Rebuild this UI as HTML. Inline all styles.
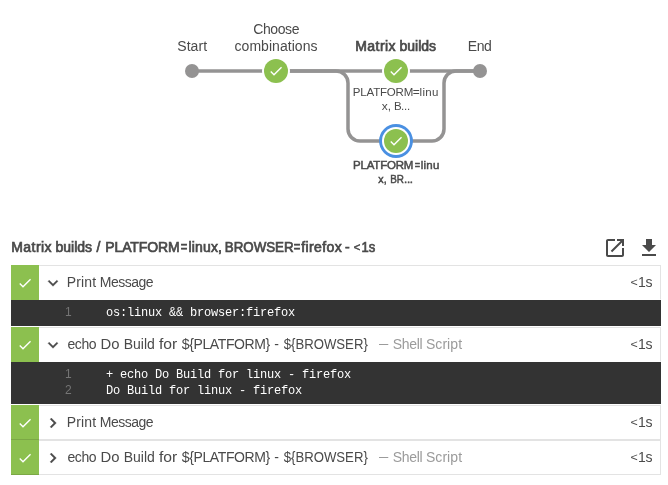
<!DOCTYPE html>
<html lang="en">
<head>
<meta charset="utf-8">
<title>Matrix builds</title>
<style>
*{box-sizing:border-box;}
html,body{margin:0;padding:0;background:#fff;}
body{width:668px;height:485px;overflow:hidden;position:relative;font-family:"Liberation Sans",sans-serif;font-size:14px;color:#4a4a4a;}
.page{position:absolute;left:0;top:0;width:668px;height:485px;will-change:transform;}
.tx{position:absolute;left:0;white-space:nowrap;line-height:20px;height:20px;}
.tx span{position:absolute;top:0;}
.dash{transform-origin:0 50%;}
.graph{position:absolute;left:0;top:0;width:668px;height:200px;}
.graph svg{position:absolute;left:0;top:0;}
.big{font-size:14px;}
.small{font-size:11.5px;}
.sel{-webkit-text-stroke:0.7px #4a4a4a;color:#4a4a4a;}
.small.sel{-webkit-text-stroke-width:0.5px;}
.head{-webkit-text-stroke:0.7px #4a4a4a;font-size:14px;color:#4a4a4a;}
.ico{position:absolute;top:236px;width:24px;height:24px;}
.row{position:absolute;left:11px;width:650px;height:35px;border:1px solid #e3e3e3;background:#fff;}
.row .st{position:absolute;left:-1px;top:-1px;width:28px;height:35px;background:#8cc04f;}
.row .st svg{display:block;}
.row.open{border-bottom-color:transparent;}
.row.closed .st{box-shadow:inset 0 -1px 0 rgba(0,0,0,0.12);}
.row .chev{position:absolute;left:31px;top:7px;}
.row .sub{color:#9b9b9b;}
.log{position:absolute;left:11px;width:650px;background:#333;color:#fff;font-family:"Liberation Mono",monospace;font-size:12px;line-height:16px;white-space:pre;letter-spacing:-0.2px;}
.log .n{position:absolute;color:#757575;font-family:"Liberation Sans",sans-serif;letter-spacing:0;line-height:20px;}
.log .t{position:absolute;left:95px;}
</style>
</head>
<body>
<div class="page">
<div class="graph">
<svg width="668" height="200" viewBox="0 0 668 200">
 <g fill="none" stroke="#949393" stroke-width="3.5">
  <path d="M192 71 H480"/>
  <path d="M276 71 H336 A12 12 0 0 1 348 83 V129 A12 12 0 0 0 360 141 H396"/>
  <path d="M396 141 H432 A12 12 0 0 0 444 129 V83 A12 12 0 0 1 456 71 H480"/>
 </g>
 <circle cx="192" cy="71" r="7" fill="#949393"/>
 <circle cx="480" cy="71" r="7" fill="#949393"/>
 <g transform="translate(276 71)"><circle r="14" fill="#fff"/><circle r="12" fill="#8cc04f"/><polygon points="-2.00 2.80 -4.80 0.00 -5.73 0.933 -2.00 4.667 6.00 -3.33 5.07 -4.27" fill="#fff"/></g>
 <g transform="translate(396 71)"><circle r="14" fill="#fff"/><circle r="12" fill="#8cc04f"/><polygon points="-2.00 2.80 -4.80 0.00 -5.73 0.933 -2.00 4.667 6.00 -3.33 5.07 -4.27" fill="#fff"/></g>
 <g transform="translate(396 141)"><circle r="15" fill="none" stroke="#4a90e2" stroke-width="3.85"/><circle r="14" fill="#fff"/><circle r="12" fill="#8cc04f"/><polygon points="-2.00 2.80 -4.80 0.00 -5.73 0.933 -2.00 4.667 6.00 -3.33 5.07 -4.27" fill="#fff"/></g>
</svg>
<div class="tx big" style="top:36px;"><span style="left:177.25px;letter-spacing:0.06px;">Start</span></div>
<div class="tx big" style="top:19px;"><span style="left:253.25px;letter-spacing:-0.4px;">Choose</span></div>
<div class="tx big" style="top:36px;"><span style="left:234.5px;letter-spacing:0.05px;">combinations</span></div>
<div class="tx big sel" style="top:36px;"><span style="left:355.25px;letter-spacing:0.45px;">Matrix</span> <span style="left:399.5px;">builds</span></div>
<div class="tx big" style="top:36px;"><span style="left:467.75px;letter-spacing:-0.38px;">End</span></div>
<div class="tx small" style="top:82px;"><span style="left:352.8px;letter-spacing:-0.18px;">PLATFORM</span><span style="left:412.72px;transform:scaleX(1.04);transform-origin:3.38px 50%;">=</span><span style="left:419.55px;letter-spacing:0.33px;">linu</span></div>
<div class="tx small" style="top:96px;"><span style="left:381.92px;transform:scaleX(1.04);transform-origin:4.12px 50%;">x,</span> <span style="left:394.1px;">B</span><span style="left:401.05px;letter-spacing:-0.28px;">...</span></div>
<div class="tx small sel" style="top:155px;"><span style="left:353.12px;letter-spacing:-0.21px;">PLATFORM</span><span style="left:413.92px;transform:scaleX(0.8);transform-origin:3.38px 50%;">=</span><span style="left:420.72px;letter-spacing:0.26px;">linu</span></div>
<div class="tx small sel" style="top:169px;"><span style="left:378.25px;transform:scaleX(0.93);transform-origin:4px 50%;">x,</span> <span style="left:389px;transform:scaleX(0.86);transform-origin:8.25px 50%;">BR</span><span style="left:403.95px;letter-spacing:-0.25px;">...</span></div>
</div>
<div class="tx head" style="top:237px;"><span style="left:11.25px;letter-spacing:0.45px;">Matrix</span> <span style="left:55.5px;">builds</span> <span style="left:96.62px;">/</span> <span style="left:105.25px;letter-spacing:-0.11px;">PLATFORM</span><span style="left:180px;transform:scaleX(0.8);transform-origin:4px 50%;">=</span><span style="left:188.5px;letter-spacing:0.15px;">linux,</span> <span style="left:222.5px;transform:scaleX(0.95);transform-origin:36.5px 50%;">BROWSER</span><span style="left:293px;transform:scaleX(0.8);transform-origin:4px 50%;">=</span><span style="left:301.25px;letter-spacing:0.38px;">firefox</span> <span style="left:345.12px;">-</span> <span style="left:353px;transform:scale(0.8,0.78);transform-origin:4px 50%;">&lt;</span><span style="left:360.75px;transform:scaleX(0.93);transform-origin:7.75px 50%;">1s</span></div>
<svg class="ico" style="left:603px;" viewBox="0 0 24 24"><path fill="#4a4a4a" d="M19 19H5V5h7V3H5c-1.11 0-2 .9-2 2v14c0 1.1.89 2 2 2h14c1.1 0 2-.9 2-2v-7h-2v7zM14 3v2h3.59l-9.83 9.83 1.41 1.41L19 6.41V10h2V3h-7z"/></svg>
<svg class="ico" style="left:637px;" viewBox="0 0 24 24"><path fill="#4a4a4a" d="M19 9h-4V3H9v6H5l7 7 7-7zM5 18v2h14v-2H5z"/></svg>
<div class="row open" style="top:265px;"><div class="st"><svg width="28" height="35" viewBox="0 0 28 35"><polygon transform="translate(14 18)" points="-2.00 2.80 -4.80 0.00 -5.73 0.933 -2.00 4.667 6.00 -3.33 5.07 -4.27" fill="#fff"/></svg></div><svg class="chev" width="20" height="20" viewBox="0 0 24 24"><path d="M16.59 8.59L12 13.17 7.41 8.59 6 10l6 6 6-6z" fill="#4a4a4a" stroke="#4a4a4a" stroke-width="0.4"/></svg><div class="tx ttl" style="top:6px;"><span style="left:54.75px;letter-spacing:0.12px;">Print</span> <span style="left:87.75px;letter-spacing:-0.5px;">Message</span></div><div class="tx dur" style="top:6px;"><span style="left:617.88px;transform:scale(0.89,0.78);transform-origin:4.12px 50%;">&lt;</span><span style="left:626px;letter-spacing:-0.25px;">1s</span></div></div>
<div class="log" style="top:300px;height:26px;"><div class="n" style="left:54px;top:2px;">1</div><div class="t" style="top:5px;">os:linux &amp;&amp; browser:firefox</div></div>
<div class="row open" style="top:327px;"><div class="st"><svg width="28" height="35" viewBox="0 0 28 35"><polygon transform="translate(14 18)" points="-2.00 2.80 -4.80 0.00 -5.73 0.933 -2.00 4.667 6.00 -3.33 5.07 -4.27" fill="#fff"/></svg></div><svg class="chev" width="20" height="20" viewBox="0 0 24 24"><path d="M16.59 8.59L12 13.17 7.41 8.59 6 10l6 6 6-6z" fill="#4a4a4a" stroke="#4a4a4a" stroke-width="0.4"/></svg><div class="tx ttl" style="top:6px;"><span style="left:55.5px;letter-spacing:-0.42px;">echo</span> <span style="left:89.25px;transform:scaleX(1.06);transform-origin:9.25px 50%;">Do</span> <span style="left:111.75px;">Build</span> <span style="left:147.75px;transform:scaleX(1.12);transform-origin:8.25px 50%;">for</span> <span style="left:169.75px;letter-spacing:-0.38px;">${PLATFORM}</span> <span style="left:262.25px;">-</span> <span style="left:269.25px;transform:scaleX(0.94);transform-origin:44.75px 50%;">${BROWSER}</span></div><div class="tx sub dash" style="left:366.8px;top:5px;transform:scaleX(0.66);">—</div><div class="tx sub" style="top:6px;"><span style="left:380.85px;letter-spacing:-0.35px;">Shell</span> <span style="left:413.92px;letter-spacing:0.07px;">Script</span></div><div class="tx dur" style="top:6px;"><span style="left:617.88px;transform:scale(0.89,0.78);transform-origin:4.12px 50%;">&lt;</span><span style="left:626px;letter-spacing:-0.25px;">1s</span></div></div>
<div class="log" style="top:362px;height:42px;"><div class="n" style="left:54px;top:2px;">1</div><div class="t" style="top:5px;">+ echo Do Build for linux - firefox</div><div class="n" style="left:54px;top:18px;">2</div><div class="t" style="top:21px;">Do Build for linux - firefox</div></div>
<div class="row closed" style="top:405px;"><div class="st"><svg width="28" height="35" viewBox="0 0 28 35"><polygon transform="translate(14 18)" points="-2.00 2.80 -4.80 0.00 -5.73 0.933 -2.00 4.667 6.00 -3.33 5.07 -4.27" fill="#fff"/></svg></div><svg class="chev" width="20" height="20" viewBox="0 0 24 24"><path transform="rotate(-90 12 12)" d="M16.59 8.59L12 13.17 7.41 8.59 6 10l6 6 6-6z" fill="#4a4a4a" stroke="#4a4a4a" stroke-width="0.4"/></svg><div class="tx ttl" style="top:6px;"><span style="left:54.75px;letter-spacing:0.12px;">Print</span> <span style="left:87.75px;letter-spacing:-0.5px;">Message</span></div><div class="tx dur" style="top:6px;"><span style="left:617.88px;transform:scale(0.89,0.78);transform-origin:4.12px 50%;">&lt;</span><span style="left:626px;letter-spacing:-0.25px;">1s</span></div></div>
<div class="row closed" style="top:440px;"><div class="st"><svg width="28" height="35" viewBox="0 0 28 35"><polygon transform="translate(14 18)" points="-2.00 2.80 -4.80 0.00 -5.73 0.933 -2.00 4.667 6.00 -3.33 5.07 -4.27" fill="#fff"/></svg></div><svg class="chev" width="20" height="20" viewBox="0 0 24 24"><path transform="rotate(-90 12 12)" d="M16.59 8.59L12 13.17 7.41 8.59 6 10l6 6 6-6z" fill="#4a4a4a" stroke="#4a4a4a" stroke-width="0.4"/></svg><div class="tx ttl" style="top:6px;"><span style="left:55.5px;letter-spacing:-0.42px;">echo</span> <span style="left:89.25px;transform:scaleX(1.06);transform-origin:9.25px 50%;">Do</span> <span style="left:111.75px;">Build</span> <span style="left:147.75px;transform:scaleX(1.12);transform-origin:8.25px 50%;">for</span> <span style="left:169.75px;letter-spacing:-0.38px;">${PLATFORM}</span> <span style="left:262.25px;">-</span> <span style="left:269.25px;transform:scaleX(0.94);transform-origin:44.75px 50%;">${BROWSER}</span></div><div class="tx sub dash" style="left:366.8px;top:5px;transform:scaleX(0.66);">—</div><div class="tx sub" style="top:6px;"><span style="left:380.85px;letter-spacing:-0.35px;">Shell</span> <span style="left:413.92px;letter-spacing:0.07px;">Script</span></div><div class="tx dur" style="top:6px;"><span style="left:617.88px;transform:scale(0.89,0.78);transform-origin:4.12px 50%;">&lt;</span><span style="left:626px;letter-spacing:-0.25px;">1s</span></div></div>
</div>
</body>
</html>
